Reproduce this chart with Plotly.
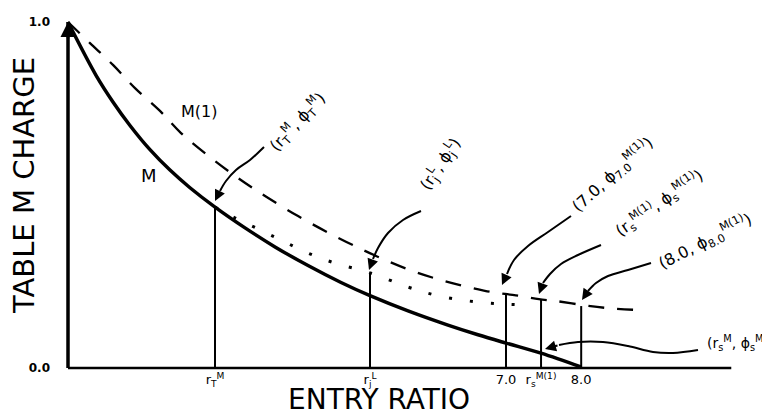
import plotly.graph_objects as go

# ---------------- data ----------------
m_x = [1.000, 1.384, 1.616, 1.849, 2.123, 2.397, 2.671, 3.014, 3.425, 3.836, 4.288, 4.740, 5.137, 5.658, 6.205, 6.616, 7.000, 7.479, 8.027]
m_y = [1.000, 0.846, 0.769, 0.701, 0.631, 0.572, 0.521, 0.465, 0.405, 0.350, 0.296, 0.247, 0.209, 0.165, 0.124, 0.096, 0.072, 0.043, 0.003]

m1_x = [1.000, 1.301, 1.616, 1.918, 2.260, 2.548, 2.959, 3.329, 3.699, 4.151, 4.603, 5.014, 5.38, 5.79, 6.25, 6.71, 6.99, 7.21, 7.45, 7.67, 8.05, 8.40, 8.77]
m1_y = [1.000, 0.939, 0.876, 0.809, 0.743, 0.679, 0.607, 0.549, 0.497, 0.439, 0.387, 0.344, 0.309, 0.275, 0.246, 0.223, 0.214, 0.208, 0.199, 0.194, 0.182, 0.173, 0.168]

l_x = [3.014, 3.219, 3.425, 3.699, 3.973, 4.288, 4.658, 5.137, 5.658, 6.027, 6.479, 6.932, 7.329]
l_y = [0.465, 0.441, 0.420, 0.392, 0.364, 0.332, 0.303, 0.275, 0.234, 0.211, 0.194, 0.185, 0.182]

drop_x = [3.014, 5.137, 7.00, 7.48, 8.03]
drop_top = [0.465, 0.275, 0.216, 0.197, 0.179]

tick_vals = [3.014, 5.137, 7.00, 7.48, 8.03]
tick_text = ["r<sub>T</sub><sup>M</sup>", "r<sub>j</sub><sup>L</sup>", "7.0",
             "r<sub>s</sub><sup>M(1)</sup>", "8.0"]
y_tick_vals = [0.0, 1.0]
y_tick_text = ["0.0", "1.0"]

point_labels = [
    "(r<sub>T</sub><sup>M</sup>, ϕ<sub>T</sub><sup>M</sup>)",
    "(r<sub>j</sub><sup>L</sup>, ϕ<sub>j</sub><sup>L</sup>)",
    "(7.0, ϕ<sub>7.0</sub><sup>M(1)</sup>)",
    "(r<sub>s</sub><sup>M(1)</sup>, ϕ<sub>s</sub><sup>M(1)</sup>)",
    "(8.0, ϕ<sub>8.0</sub><sup>M(1)</sup>)",
    "(r<sub>s</sub><sup>M</sup>, ϕ<sub>s</sub><sup>M</sup>)",
]

# ---------------- layout geometry ----------------
W, H = 770, 414
L, R, T, B = 53, 46, 7, 52
PW, PH = W - L - R, H - T - B
XPX, YPX = 73.0, 346.0            # pixels per data unit
xr0 = 1 - (60 - L) / XPX
xr1 = xr0 + PW / XPX
yr1 = 1 + (14 - T) / YPX
yr0 = yr1 - PH / YPX


def to_data(px, py):
    return xr0 + (px - L) / XPX, yr1 - (py - T) / YPX


def to_paper(px, py):
    return (px - L) / PW, (H - B - py) / PH


FONT = "DejaVu Sans"
fig = go.Figure()

# curves
fig.add_trace(go.Scatter(x=m1_x, y=m1_y, mode="lines",
                         line=dict(color="black", width=2.3, dash="16px,13px", shape="spline"),
                         hoverinfo="skip"))
fig.add_trace(go.Scatter(x=l_x, y=l_y, mode="lines",
                         line=dict(color="black", width=3, dash="3px,18px", shape="spline"),
                         hoverinfo="skip"))
fig.add_trace(go.Scatter(x=m_x, y=m_y, mode="lines",
                         line=dict(color="black", width=3.5, shape="spline", smoothing=1.0),
                         hoverinfo="skip"))

# drop lines
for xv, top in zip(drop_x, drop_top):
    fig.add_trace(go.Scatter(x=[xv, xv], y=[0, top], mode="lines",
                             line=dict(color="black", width=2), hoverinfo="skip"))

# axes lines
fig.add_shape(type="line", x0=1, x1=1, y0=0, y1=1, xref="x", yref="y",
              line=dict(color="black", width=3.5))
fig.add_shape(type="line", x0=1, x1=xr1 - 0.01, y0=0, y1=0, xref="x", yref="y",
              line=dict(color="black", width=2.5))
fig.add_annotation(x=1, y=1.0, xref="x", yref="y", ax=0, ay=18, text="",
                   showarrow=True, arrowhead=2, arrowsize=1.2, arrowwidth=2.5, arrowcolor="black")

# curved leader arrows (pixel paths, last point = arrow head)
arrow_paths = [
    [(256, 139), (242, 152), (228, 162), (218, 173), (212, 183), (207, 193)],
    [(413, 203), (395, 212), (380, 225), (370, 240), (365, 251), (361, 262)],
    [(563, 208), (540, 224), (520, 238), (506, 252), (499, 266), (494, 277)],
    [(593, 237), (570, 247), (553, 256), (542, 266), (535, 275), (531, 286)],
    [(643, 255), (620, 262), (600, 268), (588, 275), (580, 283), (574, 292)],
    [(690, 342), (665, 345), (645, 344), (620, 338), (595, 334), (570, 334), (551, 337), (537, 341)],
]
for path in arrow_paths:
    pts = [to_data(px, py) for px, py in path[:-1]]
    fig.add_trace(go.Scatter(x=[p[0] for p in pts], y=[p[1] for p in pts], mode="lines",
                             line=dict(color="black", width=2, shape="spline"), hoverinfo="skip"))
    hx, hy = to_data(*path[-1])
    tx, ty = path[-2]
    fig.add_annotation(x=hx, y=hy, xref="x", yref="y",
                       ax=tx - path[-1][0], ay=ty - path[-1][1], text="",
                       showarrow=True, arrowhead=2, arrowsize=1.1, arrowwidth=2, arrowcolor="black")

# point labels
label_pos = [((289, 114), -47, "center", 16), ((432, 156), -56, "center", 16),
             ((605, 167), -42, "center", 16), ((651, 195), -35, "center", 16),
             ((697, 233), -27, "center", 16), ((730, 335), 0, "center", 14)]
for txt, ((px, py), ang, anc, sz) in zip(point_labels, label_pos):
    xp, yp = to_paper(px, py)
    fig.add_annotation(x=xp, y=yp, xref="paper", yref="paper", text=txt, showarrow=False,
                       textangle=ang, xanchor=anc, yanchor="middle",
                       font=dict(family=FONT, size=sz, color="black"))

# curve names
for txt, (px, py), sz in [("M", (141, 168), 18), ("M(1)", (191, 104), 16)]:
    xp, yp = to_paper(px, py)
    fig.add_annotation(x=xp, y=yp, xref="paper", yref="paper", text=txt, showarrow=False,
                       xanchor="center", yanchor="middle", font=dict(family=FONT, size=sz, color="black"))

# axis titles
xp, yp = to_paper(371, 392)
fig.add_annotation(x=xp, y=yp, xref="paper", yref="paper", text="ENTRY RATIO", showarrow=False,
                   xanchor="center", yanchor="middle", font=dict(family=FONT, size=28, color="black"))
xp, yp = to_paper(16, 178)
fig.add_annotation(x=xp, y=yp, xref="paper", yref="paper", text="TABLE M CHARGE", showarrow=False,
                   textangle=-90, xanchor="center", yanchor="middle",
                   font=dict(family=FONT, size=29, color="black"))

fig.update_xaxes(range=[xr0, xr1], showgrid=False, zeroline=False, showline=False,
                 tickvals=tick_vals, ticktext=tick_text, ticks="", automargin=False,
                 tickfont=dict(family=FONT, size=13, color="black"))
fig.update_yaxes(range=[yr0, yr1], showgrid=False, zeroline=False, showline=False,
                 tickvals=y_tick_vals, ticktext=y_tick_text, ticks="", automargin=False,
                 ticklabelstandoff=10,
                 tickfont=dict(family=FONT, size=12, color="black", weight="bold"))
fig.update_layout(width=W, height=H, margin=dict(l=L, r=R, t=T, b=B),
                  paper_bgcolor="white", plot_bgcolor="white", showlegend=False)

fig.write_html("out.html")
